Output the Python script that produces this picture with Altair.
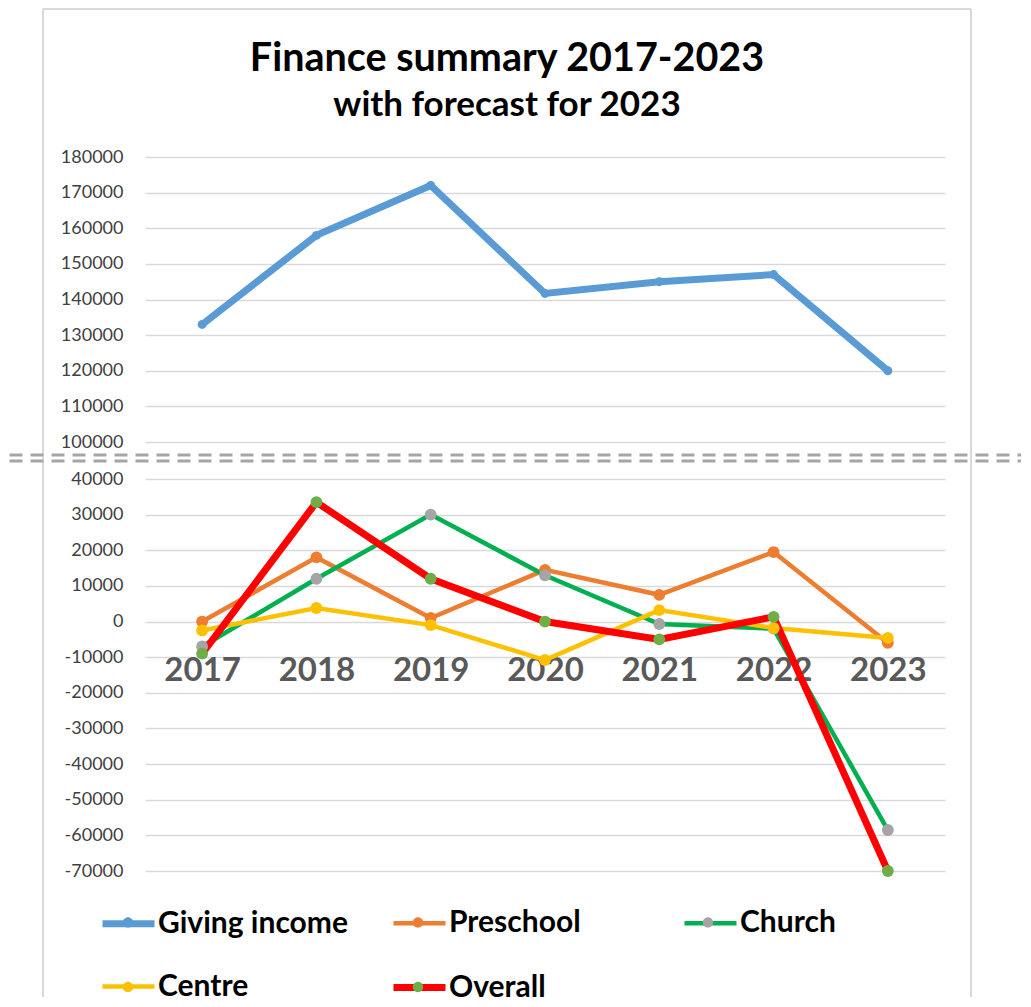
import altair as alt
import pandas as pd

years = ["2017", "2018", "2019", "2020", "2021", "2022", "2023"]
giving = [133000, 158000, 172000, 141700, 145000, 147000, 120000]
preschool = [0, 18000, 1000, 14500, 7500, 19500, -6000]
church = [-7000, 12000, 30000, 13000, -700, -2000, -58500]
centre = [-2500, 3800, -1000, -10800, 3200, -1800, -4600]
overall = [-9000, 33500, 12000, 0, -5000, 1300, -70000]

series_names = ["Giving income", "Preschool", "Church", "Centre", "Overall"]
series_values = [giving, preschool, church, centre, overall]
line_colors = ["#5B9BD5", "#ED7D31", "#00B050", "#FFC000", "#FF0000"]
marker_colors = ["#5B9BD5", "#ED7D31", "#A5A5A5", "#FFC000", "#70AD47"]
line_widths = [7, 4.5, 4.5, 4.5, 7]

top_ticks = list(range(100000, 180001, 10000))
bottom_ticks = list(range(-70000, 40001, 10000))

MK = "*"  # suffix so the marker legend stays a separate legend
marker_names = [n + MK for n in series_names]

rows = []
for name, vals in zip(series_names, series_values):
    for y, v in zip(years, vals):
        rows.append({"series": name, "marker": name + MK, "year": y, "value": v})
df = pd.DataFrame(rows)

FONT = "Lato"
W = 800
H_TOP = 285
H_BOT = 392
SPACING = 37
LX, LY = -46, 737

line_legend = alt.Legend(
    orient="none", legendX=LX, legendY=LY, columns=3, direction="horizontal",
    gridAlign="all", columnPadding=31, rowPadding=19, symbolSize=2704,
    symbolType="M-1,0H1", symbolStrokeWidth=5,
    labelFont=FONT, labelFontSize=30, labelFontWeight="bold",
    labelColor="black", labelOffset=0, labelLimit=400, title=None, zindex=0,
)
fill_legend = alt.Legend(
    orient="none", legendX=LX, legendY=LY - 1, columns=3, direction="horizontal",
    gridAlign="all", columnPadding=216, rowPadding=19, symbolSize=2704,
    symbolType="M-1,0H1M-0.2,0A0.2,0.2 0 1,0 0.2,0A0.2,0.2 0 1,0 -0.2,0Z",
    symbolStrokeColor="transparent", symbolStrokeWidth=5.5,
    labelFont=FONT, labelFontSize=30, labelExpr="''", title=None, zindex=1,
)

color_enc = alt.Color("series:N", scale=alt.Scale(domain=series_names, range=line_colors),
                      legend=line_legend)
sw_enc = alt.StrokeWidth("series:N",
                         scale=alt.Scale(type="ordinal", domain=series_names, range=line_widths),
                         legend=None)
fill_enc = alt.Fill("marker:N", scale=alt.Scale(domain=marker_names, range=marker_colors),
                    legend=fill_legend)


def y_axis(ticks):
    return alt.Axis(values=ticks, grid=True, gridColor="#D9D9D9", gridWidth=1.5,
                    domain=False, ticks=False, labelFont=FONT, labelFontSize=18,
                    labelColor="#404040", labelPadding=22, title=None,
                    labelExpr="'' + datum.value")


x_scale = alt.Scale(type="point", padding=0.5)

# ---- top panel (Giving income) ----
top_base = alt.Chart(df).transform_filter(alt.datum.series == "Giving income")
top_y = alt.Y("value:Q", scale=alt.Scale(domain=[100000, 180000], nice=False, zero=False),
              axis=y_axis(top_ticks))
top_x = alt.X("year:O", sort=years, scale=x_scale, axis=None)
top_line = top_base.mark_line().encode(x=top_x, y=top_y, color=color_enc, strokeWidth=sw_enc)
top_pts = top_base.mark_circle(opacity=1, size=80).encode(x=top_x, y=top_y, fill=fill_enc)

top = alt.layer(top_line, top_pts).properties(
    width=W, height=H_TOP,
    title=alt.TitleParams(
        text="Finance summary 2017-2023", subtitle="with forecast for 2023",
        anchor="middle", frame="group", dx=-38, offset=24,
        font=FONT, fontSize=39.5, fontWeight="bold", color="black",
        subtitleFont=FONT, subtitleFontSize=35, subtitleFontWeight="bold",
        subtitleColor="black", subtitlePadding=9,
    ),
)

# ---- decorations (chart frame and axis-break marks), placed with the bottom panel ----
one = pd.DataFrame({"k": [0]})
deco = alt.Chart(one)
BORDER = "#D9D9D9"
TOP_EDGE = -(H_TOP + SPACING) - 148
border_top = deco.mark_rule(color=BORDER, strokeWidth=2).encode(
    x=alt.value(-102), x2=alt.value(826), y=alt.value(TOP_EDGE))
border_left = deco.mark_rule(color=BORDER, strokeWidth=2).encode(
    x=alt.value(-102), y=alt.value(TOP_EDGE), y2=alt.value(518))
border_right = deco.mark_rule(color=BORDER, strokeWidth=2).encode(
    x=alt.value(826), y=alt.value(TOP_EDGE), y2=alt.value(518))
break1 = deco.mark_rule(color="#A6A6A6", strokeWidth=3, strokeDash=[13, 8]).encode(
    x=alt.value(-135.5), x2=alt.value(876), y=alt.value(-24))
break2 = deco.mark_rule(color="#A6A6A6", strokeWidth=3, strokeDash=[13, 8]).encode(
    x=alt.value(-135.5), x2=alt.value(876), y=alt.value(-18))

# ---- bottom panel ----
ymin, ymax = -70000, 40000
bot_base = alt.Chart(df).transform_filter(alt.datum.series != "Giving income")
bot_y = alt.Y("value:Q", scale=alt.Scale(domain=[ymin, ymax], nice=False, zero=False),
              axis=y_axis(bottom_ticks))
bot_x = alt.X("year:O", sort=years, scale=x_scale,
              axis=alt.Axis(orient="bottom", offset=-(0 - ymin) / (ymax - ymin) * H_BOT,
                            domain=False, ticks=False, tickSize=0, grid=False,
                            labelFont=FONT, labelFontSize=33, labelFontWeight="bold",
                            labelColor="#595959", labelPadding=49, labelBaseline="middle",
                            labelAngle=0, labelOverlap=False, title=None))
bot_line = bot_base.mark_line().encode(x=bot_x, y=bot_y, color=color_enc, strokeWidth=sw_enc)
bot_pts = bot_base.mark_circle(opacity=1, size=140).encode(x=bot_x, y=bot_y, fill=fill_enc)
bottom = alt.layer(border_top, border_left, border_right, break1, break2,
                   bot_line, bot_pts).properties(width=W, height=H_BOT)

chart = alt.vconcat(top, bottom, spacing=SPACING, bounds="flush").resolve_scale(
    color="shared", fill="shared", strokeWidth="shared"
).properties(
    padding=0
).configure_view(stroke=None)

chart.save("out.html", embed_options={"renderer": "svg", "actions": False})
